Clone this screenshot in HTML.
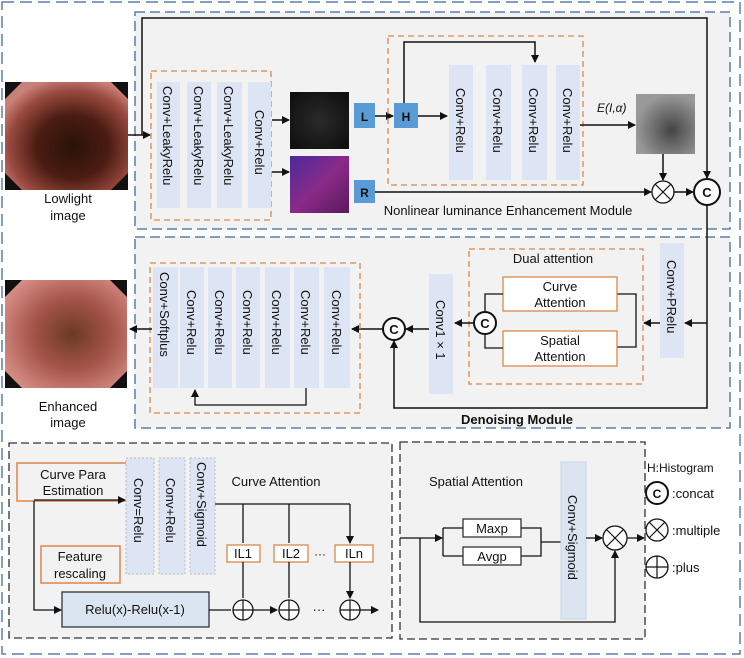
<!DOCTYPE html>
<html><head><meta charset="utf-8"><style>
html,body{margin:0;padding:0;background:#fff}
svg{display:block}
text{font-family:"Liberation Sans",sans-serif;fill:#111}
</style></head><body>
<svg width="744" height="658" viewBox="0 0 744 658" xmlns="http://www.w3.org/2000/svg">
<defs>
<marker id="a" markerWidth="8" markerHeight="8" refX="7" refY="4" orient="auto" markerUnits="userSpaceOnUse"><path d="M0,0 L8,4 L0,8 z" fill="#111"/></marker>
<radialGradient id="endo1" cx="0.55" cy="0.6" r="0.65"><stop offset="0" stop-color="#2a1208"/><stop offset="0.45" stop-color="#4a1c12"/><stop offset="0.8" stop-color="#9a4a40"/><stop offset="1" stop-color="#c98078"/></radialGradient>
<radialGradient id="endo2" cx="0.55" cy="0.5" r="0.65"><stop offset="0" stop-color="#6a3a22"/><stop offset="0.5" stop-color="#a5544a"/><stop offset="1" stop-color="#d99088"/></radialGradient>
<radialGradient id="gray1" cx="0.5" cy="0.5" r="0.6"><stop offset="0" stop-color="#2a2a2a"/><stop offset="1" stop-color="#111"/></radialGradient>
<radialGradient id="gray2" cx="0.6" cy="0.6" r="0.6"><stop offset="0" stop-color="#444"/><stop offset="1" stop-color="#999"/></radialGradient>
<linearGradient id="col1" x1="0" y1="0" x2="1" y2="1"><stop offset="0" stop-color="#4a2a9a"/><stop offset="0.5" stop-color="#8a2a8a"/><stop offset="1" stop-color="#5a1a5a"/></linearGradient>
</defs>
<rect x="2" y="2" width="738" height="652" fill="#fff" stroke="#5b7fa8" stroke-width="1.5" stroke-dasharray="12,6"/>
<rect x="135" y="12" width="595" height="217" fill="#f2f2f2" stroke="#5b7fa8" stroke-width="1.5" stroke-dasharray="10,5"/>
<rect x="135" y="237" width="595" height="191" fill="#f2f2f2" stroke="#5b7fa8" stroke-width="1.5" stroke-dasharray="10,5"/>

<rect x="5" y="82" width="123" height="108" fill="#111"/>
<polygon points="22,82 111,82 128,99 128,173 111,190 22,190 5,173 5,99" fill="url(#endo1)"/>
<text x="68" y="203" font-size="13" text-anchor="middle">Lowlight</text>
<text x="68" y="220" font-size="13" text-anchor="middle">image</text>
<path d="M128,135 H150" stroke="#111" stroke-width="1.5" fill="none" marker-end="url(#a)"/>
<path d="M142,135 V18 H707 V178" stroke="#111" stroke-width="1.5" fill="none" marker-end="url(#a)"/>
<rect x="151" y="71" width="120" height="149" fill="none" stroke="#d9884a" stroke-width="1.3" stroke-dasharray="6,4"/>
<g fill="#dde4f3">
<rect x="157" y="82" width="23" height="126"/><rect x="187" y="82" width="24" height="126"/><rect x="217" y="82" width="25" height="126"/><rect x="248" y="82" width="23" height="126"/>
</g>
<g font-size="13">
<text transform="translate(163,86) rotate(90)">Conv+LeakyRelu</text>
<text transform="translate(194,86) rotate(90)">Conv+LeakyRelu</text>
<text transform="translate(224,86) rotate(90)">Conv+LeakyRelu</text>
<text transform="translate(255,110) rotate(90)">Conv+Relu</text>
</g>
<path d="M272,120 H289" stroke="#111" stroke-width="1.5" marker-end="url(#a)"/>
<path d="M272,172 H289" stroke="#111" stroke-width="1.5" marker-end="url(#a)"/>
<rect x="290" y="92" width="59" height="57" fill="url(#gray1)"/>
<rect x="290" y="156" width="59" height="57" fill="url(#col1)"/>
<rect x="354" y="103" width="21" height="25" fill="#5b9bd5"/><text x="364.5" y="121" font-size="12" font-weight="bold" text-anchor="middle">L</text>
<rect x="394" y="103" width="24" height="25" fill="#5b9bd5"/><text x="406" y="121" font-size="12" font-weight="bold" text-anchor="middle">H</text>
<rect x="354" y="180" width="21" height="23" fill="#5b9bd5"/><text x="364.5" y="197" font-size="12" font-weight="bold" text-anchor="middle">R</text>
<path d="M375,116 H393" stroke="#111" stroke-width="1.5" marker-end="url(#a)"/>
<rect x="388" y="36" width="195" height="149" fill="none" stroke="#d9884a" stroke-width="1.3" stroke-dasharray="6,4"/>
<path d="M404,103 V42 H535 V62" stroke="#111" stroke-width="1.5" fill="none" marker-end="url(#a)"/>
<path d="M418,116 H447" stroke="#111" stroke-width="1.5" marker-end="url(#a)"/>
<g fill="#dde4f3">
<rect x="449" y="65" width="24" height="115"/><rect x="486" y="65" width="25" height="115"/><rect x="522" y="65" width="25" height="115"/><rect x="556" y="65" width="24" height="115"/>
</g>
<g font-size="13">
<text transform="translate(456,88) rotate(90)">Conv+Relu</text>
<text transform="translate(493,88) rotate(90)">Conv+Relu</text>
<text transform="translate(529,88) rotate(90)">Conv+Relu</text>
<text transform="translate(563,88) rotate(90)">Conv+Relu</text>
</g>
<text x="597" y="112" font-size="12" font-family="Liberation Serif" font-style="italic">E(I,α)</text>
<path d="M580,125 H635" stroke="#111" stroke-width="1.5" marker-end="url(#a)"/>
<rect x="636" y="94" width="59" height="60" fill="url(#gray2)"/>
<path d="M663,154 V180" stroke="#111" stroke-width="1.5" marker-end="url(#a)"/>
<path d="M375,192 H651" stroke="#111" stroke-width="1.5" marker-end="url(#a)"/>
<circle cx="663" cy="192" r="11" fill="#fff" stroke="#111" stroke-width="1.3"/>
<path d="M655,184 L671,200 M671,184 L655,200" stroke="#111" stroke-width="1.2"/>
<path d="M674,192 H693" stroke="#111" stroke-width="1.5" marker-end="url(#a)"/>
<circle cx="707" cy="192" r="13" fill="#fff" stroke="#111" stroke-width="2"/>
<text x="707" y="197" font-size="13" font-weight="bold" text-anchor="middle">C</text>
<text x="508" y="215" font-size="13" text-anchor="middle">Nonlinear luminance Enhancement Module</text>

<path d="M707,205 V408 H394 V341" stroke="#111" stroke-width="1.5" fill="none" marker-end="url(#a)"/>
<path d="M707,323 H685" stroke="#111" stroke-width="1.5" marker-end="url(#a)"/>
<rect x="660" y="243" width="24" height="115" fill="#dde4f3"/>
<text transform="translate(667,260) rotate(90)" font-size="13">Conv+PRelu</text>
<path d="M660,323 H644" stroke="#111" stroke-width="1.5" marker-end="url(#a)"/>
<rect x="469" y="249" width="174" height="135" fill="none" stroke="#d9884a" stroke-width="1.3" stroke-dasharray="6,4"/>
<text x="553" y="263" font-size="13" text-anchor="middle">Dual attention</text>
<path d="M636,323 V294 H617 M636,323 V347 H617" stroke="#111" stroke-width="1.3" fill="none"/>
<rect x="503" y="277" width="114" height="34" fill="#fff" stroke="#d9884a" stroke-width="1.3"/>
<text x="560" y="291" font-size="13" text-anchor="middle">Curve</text><text x="560" y="307" font-size="13" text-anchor="middle">Attention</text>
<rect x="503" y="331" width="114" height="35" fill="#fff" stroke="#d9884a" stroke-width="1.3"/>
<text x="560" y="345" font-size="13" text-anchor="middle">Spatial</text><text x="560" y="361" font-size="13" text-anchor="middle">Attention</text>
<path d="M503,294 H485 V312 M503,348 H485 V334" stroke="#111" stroke-width="1.3" fill="none"/>
<circle cx="485" cy="323" r="11" fill="#fff" stroke="#111" stroke-width="2"/>
<text x="485" y="328" font-size="13" font-weight="bold" text-anchor="middle">C</text>
<path d="M474,323 H455" stroke="#111" stroke-width="1.5" marker-end="url(#a)"/>
<rect x="429" y="274" width="24" height="120" fill="#dde4f3"/>
<text transform="translate(436,300) rotate(90)" font-size="13">Conv1 × 1</text>
<path d="M429,329 H406" stroke="#111" stroke-width="1.5" marker-end="url(#a)"/>
<circle cx="394" cy="329" r="11" fill="#fff" stroke="#111" stroke-width="2"/>
<text x="394" y="334" font-size="13" font-weight="bold" text-anchor="middle">C</text>
<path d="M383,329 H352" stroke="#111" stroke-width="1.5" marker-end="url(#a)"/>
<rect x="150" y="263" width="210" height="150" fill="none" stroke="#d9884a" stroke-width="1.3" stroke-dasharray="6,4"/>
<g fill="#dde4f3">
<rect x="153" y="267" width="25" height="121"/><rect x="180" y="267" width="24" height="121"/><rect x="208" y="267" width="24" height="121"/><rect x="236" y="267" width="24" height="121"/><rect x="265" y="267" width="25" height="121"/><rect x="294" y="267" width="25" height="121"/><rect x="324" y="267" width="26" height="121"/>
</g>
<g font-size="13">
<text transform="translate(160,272) rotate(90)">Conv+Softplus</text>
<text transform="translate(187,290) rotate(90)">Conv+Relu</text>
<text transform="translate(215,290) rotate(90)">Conv+Relu</text>
<text transform="translate(243,290) rotate(90)">Conv+Relu</text>
<text transform="translate(272,290) rotate(90)">Conv+Relu</text>
<text transform="translate(301,290) rotate(90)">Conv+Relu</text>
<text transform="translate(332,290) rotate(90)">Conv+Relu</text>
</g>
<path d="M306,388 V405 H195 V390" stroke="#111" stroke-width="1.3" fill="none" marker-end="url(#a)"/>
<path d="M152,329 H130" stroke="#111" stroke-width="1.5" marker-end="url(#a)"/>
<rect x="5" y="280" width="122" height="108" fill="#111"/>
<polygon points="22,280 110,280 127,297 127,371 110,388 22,388 5,371 5,297" fill="url(#endo2)"/>
<text x="68" y="411" font-size="13" text-anchor="middle">Enhanced</text>
<text x="68" y="427" font-size="13" text-anchor="middle">image</text>
<text x="517" y="424" font-size="13" font-family="Liberation Serif" font-weight="bold" text-anchor="middle">Denoising Module</text>

<rect x="9" y="443" width="383" height="195" fill="#f2f2f2" stroke="#333" stroke-width="1.3" stroke-dasharray="8,4"/>
<rect x="17" y="463" width="112" height="38" fill="#f2f2f2" stroke="#d9884a" stroke-width="1.5"/>
<text x="73" y="479" font-size="13" text-anchor="middle">Curve Para</text><text x="73" y="495" font-size="13" text-anchor="middle">Estimation</text>
<g fill="#dde4f3" stroke="#bbb" stroke-dasharray="2,2">
<rect x="126" y="458" width="28" height="116"/><rect x="159" y="458" width="26" height="116"/><rect x="190" y="458" width="25" height="116"/>
</g>
<g font-size="13">
<text transform="translate(134,478) rotate(90)">Conv=Relu</text>
<text transform="translate(166,478) rotate(90)">Conv+Relu</text>
<text transform="translate(197,462) rotate(90)">Conv+Sigmoid</text>
</g>
<path d="M34,501 V610 H61" stroke="#111" stroke-width="1.3" fill="none" marker-end="url(#a)"/>
<path d="M34,500 H125" stroke="#111" stroke-width="1.3" marker-end="url(#a)"/>
<text x="276" y="486" font-size="13" text-anchor="middle">Curve Attention</text>
<rect x="41" y="546" width="79" height="37" fill="#f2f2f2" stroke="#d9884a" stroke-width="1.5"/>
<text x="80" y="561" font-size="13" text-anchor="middle">Feature</text><text x="80" y="578" font-size="13" text-anchor="middle">rescaling</text>
<rect x="62" y="592" width="147" height="35" fill="#dbe5f1" stroke="#333" stroke-width="1.3"/>
<text x="135" y="614" font-size="13" text-anchor="middle">Relu(x)-Relu(x-1)</text>
<path d="M215,504 H350" stroke="#111" stroke-width="1.3" fill="none"/>
<path d="M243,504 V543 M289,504 V543 M350,504 V543" stroke="#111" stroke-width="1.3" marker-end="url(#a)"/>
<g fill="#fff" stroke="#d9884a" stroke-width="1.3">
<rect x="227" y="545" width="33" height="17"/><rect x="274" y="545" width="34" height="17"/><rect x="335" y="545" width="38" height="17"/>
</g>
<text x="243" y="558" font-size="13" text-anchor="middle">IL1</text><text x="291" y="558" font-size="13" text-anchor="middle">IL2</text><text x="354" y="558" font-size="13" text-anchor="middle">ILn</text>
<text x="320" y="558" font-size="12" text-anchor="middle">···</text>
<path d="M243,562 V598 M289,562 V598 M350,562 V598" stroke="#111" stroke-width="1.3" marker-end="url(#a)"/>
<path d="M209,610 H231 M253,610 H277" stroke="#111" stroke-width="1.3" marker-end="url(#a)"/>
<g fill="#fff" stroke="#111" stroke-width="1.3">
<circle cx="243" cy="610" r="10"/><circle cx="289" cy="610" r="10"/><circle cx="350" cy="610" r="10"/>
</g>
<path d="M233,610 H253 M243,600 V620 M279,610 H299 M289,600 V620 M340,610 H360 M350,600 V620" stroke="#111" stroke-width="1.2"/>
<text x="319" y="614" font-size="13" text-anchor="middle">···</text>
<path d="M360,610 H378" stroke="#111" stroke-width="1.3" marker-end="url(#a)"/>

<rect x="400" y="442" width="245" height="197" fill="#f2f2f2" stroke="#333" stroke-width="1.3" stroke-dasharray="8,4"/>
<text x="476" y="486" font-size="13" text-anchor="middle">Spatial Attention</text>
<path d="M400,538 H442" stroke="#111" stroke-width="1.3" marker-end="url(#a)"/>
<path d="M443,528 V556 M443,528 H463 M443,556 H463 M521,528 H541 V556 H521 M541,542 H561" stroke="#111" stroke-width="1.3" fill="none"/>
<rect x="463" y="519" width="58" height="18" fill="#fff" stroke="#333" stroke-width="1.3"/><text x="492" y="533" font-size="13" text-anchor="middle">Maxp</text>
<rect x="463" y="547" width="58" height="18" fill="#fff" stroke="#333" stroke-width="1.3"/><text x="492" y="561" font-size="13" text-anchor="middle">Avgp</text>
<rect x="561" y="462" width="25" height="157" fill="#dbe5f1" stroke="#c8d4e4"/>
<text transform="translate(568,495) rotate(90)" font-size="13">Conv+Sigmoid</text>
<path d="M586,538 H602" stroke="#111" stroke-width="1.3" marker-end="url(#a)"/>
<path d="M420,538 V622 H615 V551" stroke="#111" stroke-width="1.3" fill="none" marker-end="url(#a)"/>
<circle cx="615" cy="538" r="12" fill="#fff" stroke="#111" stroke-width="1.3"/>
<path d="M606.5,529.5 L623.5,546.5 M623.5,529.5 L606.5,546.5" stroke="#111" stroke-width="1.2"/>
<path d="M627,538 H644" stroke="#111" stroke-width="1.3" marker-end="url(#a)"/>

<text x="647" y="472" font-size="12">H:Histogram</text>
<circle cx="657" cy="493" r="11" fill="#fff" stroke="#111" stroke-width="2"/>
<text x="657" y="498" font-size="12" font-weight="bold" text-anchor="middle">C</text>
<text x="672" y="498" font-size="13">:concat</text>
<circle cx="657" cy="530" r="11" fill="#fff" stroke="#111" stroke-width="1.3"/>
<path d="M649,522 L665,538 M665,522 L649,538" stroke="#111" stroke-width="1.2"/>
<text x="672" y="535" font-size="13">:multiple</text>
<circle cx="657" cy="567" r="11" fill="#fff" stroke="#111" stroke-width="1.3"/>
<path d="M646,567 H668 M657,556 V578" stroke="#111" stroke-width="1.2"/>
<text x="672" y="572" font-size="13">:plus</text>
</svg>
</body></html>
